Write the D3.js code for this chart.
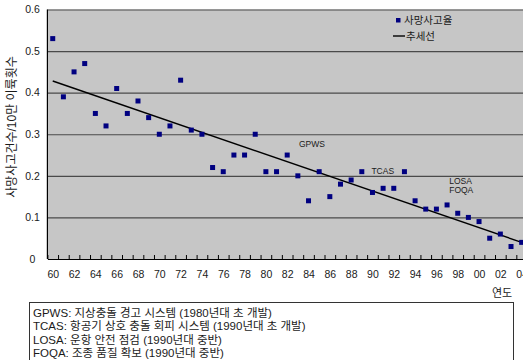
<!DOCTYPE html>
<html>
<head>
<meta charset="utf-8">
<script src="https://cdn.jsdelivr.net/npm/d3@7"></script>
<style>
  html, body { margin: 0; padding: 0; background: #fff; overflow: hidden; }
  svg { display: block; }
  text { font-family: "Liberation Sans", "Noto Sans CJK KR", sans-serif; fill: #1a1a1a; }
</style>
</head>
<body>
<svg id="chart" width="523" height="360"></svg>
<script>
// Fatal accident rate (per 100,000 departures), 1960–2004
const years = [1960, 1961, 1962, 1963, 1964, 1965, 1966, 1967, 1968, 1969,
               1970, 1971, 1972, 1973, 1974, 1975, 1976, 1977, 1978, 1979,
               1980, 1981, 1982, 1983, 1984, 1985, 1986, 1987, 1988, 1989,
               1990, 1991, 1992, 1993, 1994, 1995, 1996, 1997, 1998, 1999,
               2000, 2001, 2002, 2003, 2004];
const rates = [0.53, 0.39, 0.45, 0.47, 0.35, 0.32, 0.41, 0.35, 0.38, 0.34,
               0.30, 0.32, 0.43, 0.31, 0.30, 0.22, 0.21, 0.25, 0.25, 0.30,
               0.21, 0.21, 0.25, 0.20, 0.14, 0.21, 0.15, 0.18, 0.19, 0.21,
               0.16, 0.17, 0.17, 0.21, 0.14, 0.12, 0.12, 0.13, 0.11, 0.10,
               0.09, 0.05, 0.06, 0.03, 0.04];

// Linear trend line end points
const trendYears = [1960, 2004];
const trendRates = [0.428, 0.040];

const yTicks = [0, 0.1, 0.2, 0.3, 0.4, 0.5, 0.6];
const yTickLabels = ["0", "0.1", "0.2", "0.3", "0.4", "0.5", "0.6"];
const xTickYears = [1960, 1962, 1964, 1966, 1968, 1970, 1972, 1974, 1976, 1978, 1980,
                    1982, 1984, 1986, 1988, 1990, 1992, 1994, 1996, 1998, 2000, 2002, 2004];
const xTickLabels = ["60", "62", "64", "66", "68", "70", "72", "74", "76", "78", "80",
                     "82", "84", "86", "88", "90", "92", "94", "96", "98", "00", "02", "04"];

// Safety programme labels placed at (year, rate)
const annotationLabels = ["GPWS", "TCAS", "LOSA", "FOQA"];
const annotationYears = [1983.1, 1989.9, 1997.2, 1997.2];
const annotationRates = [0.277, 0.212, 0.188, 0.165];

const legendLabels = ["사망사고율", "추세선"];
const yTitle = "사망사고건수/10만 이륙횟수";
const xTitle = "연도";
const notes = [
  "GPWS: 지상충돌 경고 시스템 (1980년대 초 개발)",
  "TCAS: 항공기 상호 충돌 회피 시스템 (1990년대 초 개발)",
  "LOSA: 운항 안전 점검 (1990년대 중반)",
  "FOQA: 조종 품질 확보 (1990년대 중반)"
];

const svg = d3.select("#chart");

const plot = { left: 47.4, right: 527, top: 9.5, bottom: 259 };

const x = d3.scaleLinear()
  .domain([years[0] - 0.5, years[years.length - 1] + 0.5])
  .range([plot.left, plot.right]);
const y = d3.scaleLinear().domain([0, 0.6]).range([plot.bottom, plot.top]);

// Plot background
svg.append("rect")
  .attr("x", plot.left).attr("y", plot.top)
  .attr("width", plot.right - plot.left).attr("height", plot.bottom - plot.top)
  .attr("fill", "#c6c6c6");

// Horizontal gridlines
const grid = svg.append("g")
  .attr("transform", `translate(${plot.left},0)`)
  .call(d3.axisLeft(y).tickValues(yTicks.slice(1)).tickSize(-(plot.right - plot.left)).tickFormat(""));
grid.select(".domain").remove();
grid.selectAll(".tick line").attr("stroke", "#4a4a4a").attr("stroke-width", 1.2);

// Y tick labels (centred in the label column)
svg.append("g").selectAll("text")
  .data(yTicks)
  .join("text")
  .attr("x", 32.5)
  .attr("y", d => y(d))
  .attr("dy", "0.35em")
  .attr("text-anchor", "middle")
  .attr("font-size", 10.5)
  .text((d, i) => yTickLabels[i]);

// Category boundary ticks on the x axis
const boundaries = years.map(v => v - 0.5).concat([years[years.length - 1] + 0.5]);
const xTickAxis = svg.append("g")
  .attr("transform", `translate(0,${plot.bottom})`)
  .call(d3.axisBottom(x).tickValues(boundaries).tickSize(-4).tickSizeOuter(0).tickFormat(""));
xTickAxis.select(".domain").attr("stroke", "#000").attr("stroke-width", 1.2);
xTickAxis.selectAll(".tick line").attr("stroke", "#000");

// X labels at category centres
const xLabelAxis = svg.append("g")
  .attr("transform", `translate(0,${plot.bottom})`)
  .call(d3.axisBottom(x).tickValues(xTickYears).tickSize(0).tickPadding(12)
    .tickFormat((d, i) => xTickLabels[i]));
xLabelAxis.select(".domain").remove();
xLabelAxis.selectAll("text").attr("font-size", 10.5).attr("fill", "#1a1a1a")
  .style("font-family", "'Liberation Sans', sans-serif");

// Y axis line
svg.append("line")
  .attr("x1", plot.left).attr("x2", plot.left)
  .attr("y1", plot.top).attr("y2", plot.bottom)
  .attr("stroke", "#000").attr("stroke-width", 1.2);

// Trend line
svg.append("path")
  .datum(trendYears.map((t, i) => [t, trendRates[i]]))
  .attr("fill", "none")
  .attr("stroke", "#000")
  .attr("stroke-width", 1.4)
  .attr("d", d3.line().x(d => x(d[0])).y(d => y(d[1])));

// Rate markers
const ms = 5;
svg.append("g").selectAll("rect")
  .data(years.map((yr, i) => [yr, rates[i]]))
  .join("rect")
  .attr("x", d => x(d[0]) - ms / 2)
  .attr("y", d => y(d[1]) - ms / 2)
  .attr("width", ms).attr("height", ms)
  .attr("fill", "#000080");

// Programme annotations
svg.append("g").selectAll("text")
  .data(annotationLabels)
  .join("text")
  .attr("x", (d, i) => x(annotationYears[i]))
  .attr("y", (d, i) => y(annotationRates[i]))
  .attr("dy", "0.35em")
  .attr("font-size", 8.5)
  .attr("fill", "#222")
  .text(d => d);

// Legend
const legend = svg.append("g");
legend.append("rect")
  .attr("x", 396).attr("y", 18).attr("width", 4.5).attr("height", 4.5)
  .attr("fill", "#000080");
legend.append("text")
  .attr("x", 404).attr("y", 20.5).attr("dy", "0.35em")
  .attr("font-size", 10.5).text(legendLabels[0]);
legend.append("line")
  .attr("x1", 393).attr("x2", 405).attr("y1", 36).attr("y2", 36)
  .attr("stroke", "#000").attr("stroke-width", 1.4);
legend.append("text")
  .attr("x", 406).attr("y", 36).attr("dy", "0.35em")
  .attr("font-size", 10.5).text(legendLabels[1]);

// Axis titles
svg.append("text")
  .attr("transform", "translate(12,127) rotate(-90)")
  .attr("text-anchor", "middle")
  .attr("dy", "0.35em")
  .attr("font-size", 12)
  .text(yTitle);

svg.append("text")
  .attr("x", 502).attr("y", 293).attr("dy", "0.35em")
  .attr("text-anchor", "middle")
  .attr("font-size", 11)
  .text(xTitle);

// Notes box
svg.append("rect")
  .attr("x", 29.5).attr("y", 302.5).attr("width", 484).attr("height", 70)
  .attr("fill", "#fff").attr("stroke", "#333").attr("stroke-width", 1);
svg.append("g").selectAll("text")
  .data(notes)
  .join("text")
  .attr("x", 33)
  .attr("y", (d, i) => 313 + i * 13.3)
  .attr("dy", "0.35em")
  .attr("font-size", 11.5)
  .text(d => d);
</script>
</body>
</html>
